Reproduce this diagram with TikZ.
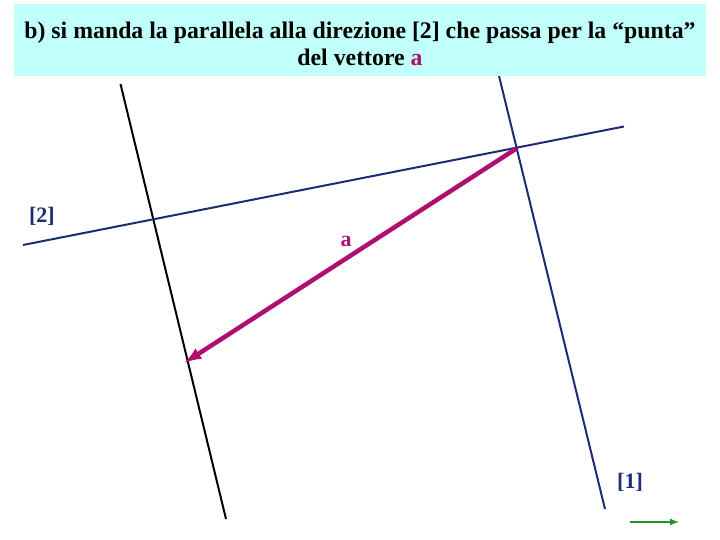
\documentclass[tikz,border=0pt]{standalone}
\usepackage{fontspec}
\setmainfont{Liberation Serif}
\usetikzlibrary{arrows,positioning}
\tikzset{>=latex}
\definecolor{blu}{RGB}{28,45,115}
\definecolor{fucsia}{RGB}{175,15,110}
\definecolor{verde}{RGB}{35,150,40}
\definecolor{ciano}{RGB}{192,255,250}

\begin{document}
\begin{tikzpicture}[x=1pt,y=-1pt,
	titolo/.style={inner sep=0pt, align=center, font=\fontsize{23.8}{26.5}\selectfont\bfseries},
	retta/.style={line width=2pt},
	etichetta/.style={inner sep=0pt, font=\fontsize{22}{24}\selectfont\bfseries}]
	\useasboundingbox (0,0) rectangle (720,540);
	\fill[ciano] (14,4) rectangle (706,76);
	\node[titolo] (tit) at (360,44) {b) si manda la parallela alla direzione [2] che passa per la “punta”\\del vettore \textcolor{fucsia}{a}};
	\coordinate (n1) at (120.5,84);
	\coordinate (n2) at (226,519);
	\coordinate (d1) at (23,245);
	\coordinate (d2) at (624,126.5);
	\coordinate (u1) at (499,76);
	\coordinate (u2) at (605,509);
	\coordinate (p) at (516.5,148.5);
	\coordinate (c) at (185,362.5);
	\draw[retta, black] (n1) -- (n2);
	\draw[retta, blu] (d1) -- (d2);
	\draw[retta, blu] (u1) -- (u2);
	\draw[->, line width=4.5pt, fucsia] (p) -- (c);
	\node[etichetta, blu] (l2) at (42,216) {[2]};
	\node[etichetta, blu] (l1) at (630,482) {[1]};
	\node[etichetta, fucsia] (la) at (346,241) {a};
	\coordinate (g1) at (630,522);
	\coordinate (g2) at (679,522);
	\draw[->, line width=2pt, verde] (g1) -- (g2);
\end{tikzpicture}
\end{document}
